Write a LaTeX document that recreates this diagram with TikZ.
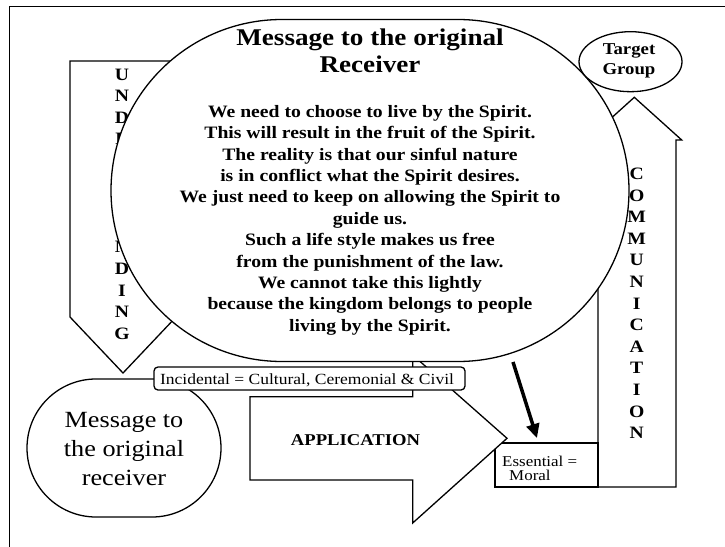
\documentclass[tikz,border=0pt]{standalone}
\usepackage{fontspec}
\setmainfont{Liberation Serif}[FakeStretch=1.13]
\usetikzlibrary{arrows.meta,shapes.geometric}
\tikzset{
  shp/.style={draw, line width=1.3pt, fill=white, line join=miter},
  frameline/.style={draw, line width=0.9pt},
  letter/.style={font=\fontsize{17.4}{21.6}\selectfont\bfseries, inner sep=0pt, anchor=base},
  bodytxt/.style={font=\fontsize{17.4}{21.4}\selectfont\bfseries, inner sep=0pt, anchor=base},
  apptxt/.style={font=\fontsize{16.5}{20}\selectfont\bfseries, inner sep=0pt, anchor=base},
  tgtxt/.style={font=\fontsize{16.6}{20}\selectfont\bfseries, inner sep=0pt, anchor=base},
  titletxt/.style={font=\fontsize{24}{28}\selectfont\bfseries, inner sep=0pt, anchor=base},
  bigtxt/.style={font=\fontsize{23.2}{28}\selectfont, inner sep=0pt, anchor=base},
  inctxt/.style={font=\fontsize{15.5}{19}\selectfont, inner sep=0pt, anchor=base},
  smalltxt/.style={font=\fontsize{15}{14}\selectfont, inner sep=0pt, anchor=base west},
  thickarrow/.style={line width=3.5pt, -{Triangle[length=14pt,width=13pt]}}
}
\begin{document}
\begin{tikzpicture}[x=1pt,y=-1pt]
\useasboundingbox (0,0) rectangle (725,546);
% frame
\draw[frameline] (9,548) -- (9,6) -- (727,6);
% UNDERSTANDING arrow (down)
\draw[shp] (70,61) -- (176,61) -- (176,317) -- (123,373) -- (70,317) -- cycle;
\foreach \c [count=\i] in {U,N,D,E,R,S,T,A,N,D,I,N,G}
  \node[letter] (u\i) at (122,{80+(\i-1)*21.6}) {\c};
% COMMUNICATION arrow (up)
\draw[shp] (598,487) -- (598,140) -- (587,140) -- (634.3,97.3) -- (681.7,140) -- (676,140) -- (676,487) -- cycle;
\foreach \c [count=\i] in {C,O,M,M,U,N,I,C,A,T,I,O,N}
  \node[letter] (c\i) at (636.7,{179.5+(\i-1)*21.6}) {\c};
% Essential box
\draw[shp] (495,443) rectangle (598,487);
\node[smalltxt] (ess1) at (502,466.7) {Essential =};
\node[smalltxt] (ess2) at (509,480.7) {Moral};
% APPLICATION arrow (right)
\draw[shp] (250,396.7) -- (412.7,396.7) -- (412.7,355) -- (507,438.3) -- (412.7,523) -- (412.7,480) -- (250,480) -- cycle;
\node[apptxt] (app) at (355.5,445) {APPLICATION};
% big message shape
\draw[shp, rounded corners=171pt] (111,19.5) rectangle (629,361.5);
\node[titletxt] (t1) at (370,45) {Message to the original};
\node[titletxt] (t2) at (370,72.7) {Receiver};
\foreach \t [count=\i] in {
  {We need to choose to live by the Spirit.},
  {This will result in the fruit of the Spirit.},
  {The reality is that our sinful nature},
  {is in conflict what the Spirit desires.},
  {We just need to keep on allowing the Spirit to},
  {guide us.},
  {Such a life style makes us free},
  {from the punishment of the law.},
  {We cannot take this lightly},
  {because the kingdom belongs to people},
  {living by the Spirit.}}
  \node[bodytxt] (b\i) at (370,{117.3+(\i-1)*21.4}) {\t};
% small message shape
\draw[shp, rounded corners=69pt] (27,379) rectangle (221,517);
\node[bigtxt] (m1) at (124,427.7) {Message to};
\node[bigtxt] (m2) at (124,456.5) {the original};
\node[bigtxt] (m3) at (124,485.3) {receiver};
% Incidental box
\draw[shp, rounded corners=4pt] (154,367) rectangle (465,390);
\node[inctxt] (inc) at (307,384.3) {Incidental = Cultural, Ceremonial \& Civil};
% thick arrow
\coordinate (a1) at (513,362);
\coordinate (a2) at (537,438);
\draw[thickarrow] (a1) -- (a2);
% Target group
\node[draw, ellipse, line width=1.3pt, fill=white, minimum width=103pt, minimum height=60pt, inner sep=0pt] (tg) at (630.5,61.7) {};
\node[tgtxt] (tg1) at (629,54) {Target};
\node[tgtxt] (tg2) at (629,74) {Group};
\end{tikzpicture}
\end{document}
